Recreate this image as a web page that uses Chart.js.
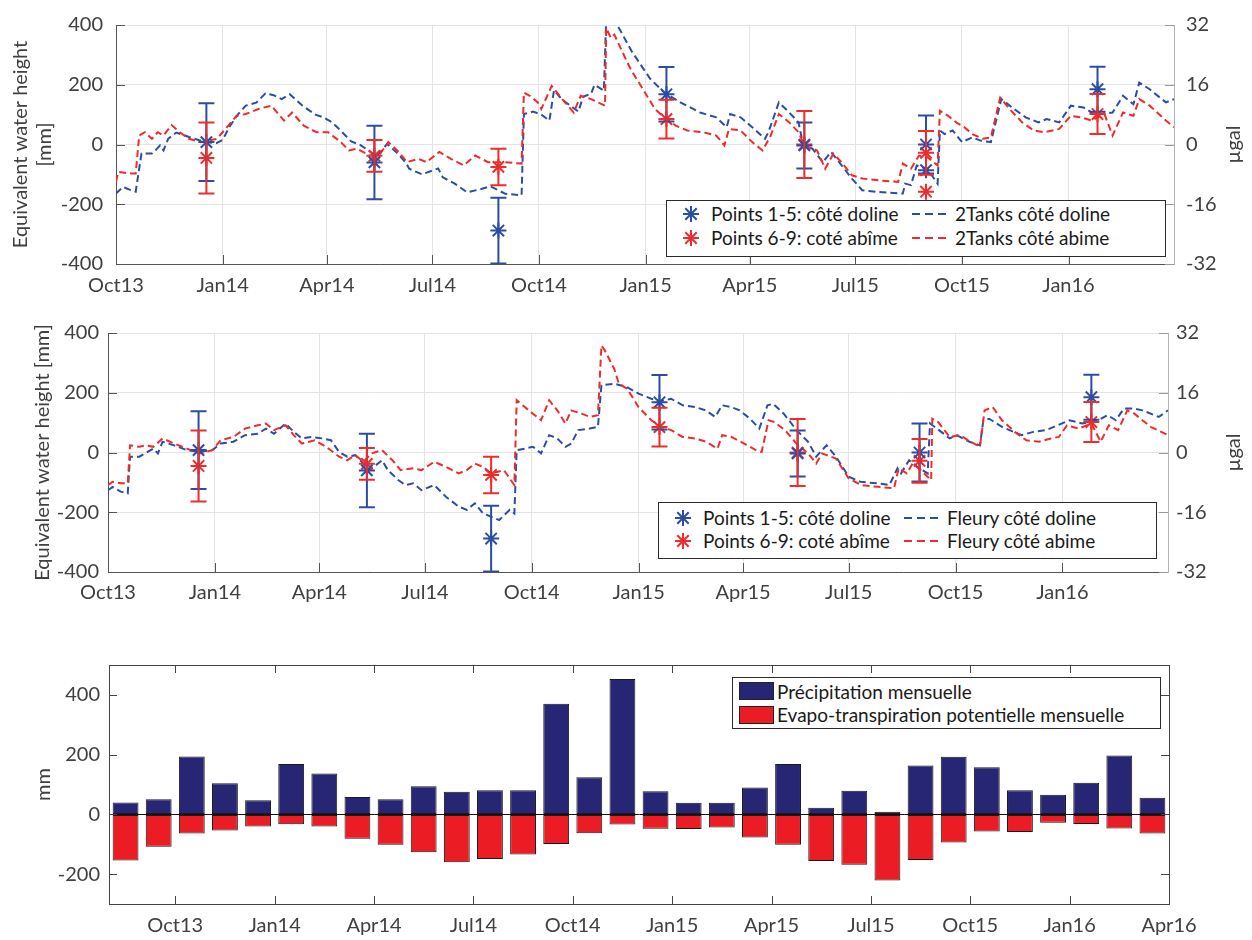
<!DOCTYPE html>
<html>
<head>
<meta charset="utf-8">
<script src="https://cdn.jsdelivr.net/npm/chart.js@4.4.1/dist/chart.umd.min.js"></script>
<style>
  body { margin: 0; background: #fff; }
  #page { position: relative; width: 1252px; height: 940px; font-family: Lato, sans-serif; }
  #page canvas { position: absolute; left: 0; }
  .legend { position: absolute; background: #fff; border: 1px solid #2b2b2b; box-sizing: border-box; font-size: 19px; color: #1a1a1a; }
  .legend span { position: absolute; white-space: nowrap; line-height: 24px; height: 24px; }
  .legend svg { position: absolute; }
  .legend .sw { position: absolute; width: 35px; height: 18px; box-sizing: border-box; border: 1px solid #222; }
</style>
</head>
<body>
<div id="page">
  <canvas id="tanksChart" width="1252" height="300" style="top:0"></canvas>
  <canvas id="fleuryChart" width="1252" height="310" style="top:300px"></canvas>
  <canvas id="rainChart" width="1252" height="300" style="top:640px"></canvas>

  <div class="legend" style="left:666px;top:200px;width:500px;height:57px">
    <svg style="left:15px;top:4px" width="18" height="18"><path d="M9 1V17M1 9H17M3.3 3.3L14.7 14.7M14.7 3.3L3.3 14.7" stroke="#2b4ea2" stroke-width="2"/></svg>
    <span style="left:44px;top:1px">Points 1-5: côté doline</span>
    <svg style="left:245px;top:11px" width="38" height="4"><line x1="0" y1="2" x2="38" y2="2" stroke="#2b4ea2" stroke-width="2" stroke-dasharray="8 5"/></svg>
    <span style="left:288px;top:1px">2Tanks côté doline</span>
    <svg style="left:15px;top:28px" width="18" height="18"><path d="M9 1V17M1 9H17M3.3 3.3L14.7 14.7M14.7 3.3L3.3 14.7" stroke="#ee2c2c" stroke-width="2"/></svg>
    <span style="left:44px;top:25px">Points 6-9: coté abîme</span>
    <svg style="left:245px;top:35px" width="38" height="4"><line x1="0" y1="2" x2="38" y2="2" stroke="#ee2c2c" stroke-width="2" stroke-dasharray="8 5"/></svg>
    <span style="left:288px;top:25px">2Tanks côté abime</span>
  </div>

  <div class="legend" style="left:658px;top:502px;width:499px;height:57px">
    <svg style="left:15px;top:6px" width="18" height="18"><path d="M9 1V17M1 9H17M3.3 3.3L14.7 14.7M14.7 3.3L3.3 14.7" stroke="#2b4ea2" stroke-width="2"/></svg>
    <span style="left:44px;top:3px">Points 1-5: côté doline</span>
    <svg style="left:245px;top:13px" width="38" height="4"><line x1="0" y1="2" x2="38" y2="2" stroke="#2b4ea2" stroke-width="2" stroke-dasharray="8 5"/></svg>
    <span style="left:288px;top:3px">Fleury côté doline</span>
    <svg style="left:15px;top:29px" width="18" height="18"><path d="M9 1V17M1 9H17M3.3 3.3L14.7 14.7M14.7 3.3L3.3 14.7" stroke="#ee2c2c" stroke-width="2"/></svg>
    <span style="left:44px;top:26px">Points 6-9: coté abîme</span>
    <svg style="left:245px;top:36px" width="38" height="4"><line x1="0" y1="2" x2="38" y2="2" stroke="#ee2c2c" stroke-width="2" stroke-dasharray="8 5"/></svg>
    <span style="left:288px;top:26px">Fleury côté abime</span>
  </div>

  <div class="legend" style="left:732px;top:677px;width:429px;height:52px">
    <div class="sw" style="left:6px;top:4px;background:#262674"></div>
    <span style="left:44px;top:2px">Précipitation mensuelle</span>
    <div class="sw" style="left:6px;top:28px;background:#ec1c24"></div>
    <span style="left:44px;top:25px">Evapo-transpiration potentielle mensuelle</span>
  </div>
</div>

<script>
// ---- time axis ----
const quarterDates = ['2013-10-01', '2014-01-01', '2014-04-01', '2014-07-01', '2014-10-01', '2015-01-01',
  '2015-04-01', '2015-07-01', '2015-10-01', '2016-01-01'];
const quarterLabels = ['Oct13', 'Jan14', 'Apr14', 'Jul14', 'Oct14', 'Jan15', 'Apr15', 'Jul15', 'Oct15', 'Jan16'];

// ---- gravity survey points (same for both panels) ----
const surveyDates = ['2013-12-18', '2014-05-12', '2014-08-27', '2015-01-19', '2015-05-18', '2015-08-31', '2016-01-26'];
const dolinePoints = [8, -60, -288, 168, -3, 0, 185];
const dolineErr = [130, 123, 110, 91, 77, 97, 75];
const abimePoints = [-45, -38, -75, 85, 0, -28, 102];
const abimeErr = [119, 53, 61, 65, 112, 73, 67];
// second repeat at the Sep 2015 station (top panel only)
const repeatDates = ['2015-08-31'];
const dolineRepeat = [-86];
const abimeRepeat = [-158];

// ---- 2Tanks model ----
const tanksDolineDates = ['2013-10-01', '2013-10-07', '2013-10-14', '2013-10-18', '2013-10-23', '2013-11-01', '2013-11-04',
  '2013-11-08', '2013-11-11', '2013-11-15', '2013-11-22', '2013-12-03', '2013-12-17', '2013-12-27', '2014-01-01',
  '2014-01-07', '2014-01-14', '2014-01-21', '2014-01-30', '2014-02-07', '2014-02-14', '2014-02-21', '2014-02-28',
  '2014-03-11', '2014-03-22', '2014-03-29', '2014-04-05', '2014-04-12', '2014-04-22', '2014-04-29', '2014-05-07',
  '2014-05-14', '2014-05-23', '2014-06-01', '2014-06-08', '2014-06-11', '2014-06-22', '2014-07-06', '2014-07-10',
  '2014-07-20', '2014-07-31', '2014-08-11', '2014-08-20', '2014-09-02', '2014-09-16', '2014-09-18', '2014-09-26',
  '2014-10-03', '2014-10-10', '2014-10-14', '2014-10-21', '2014-10-28', '2014-11-04', '2014-11-08', '2014-11-15',
  '2014-11-18', '2014-11-26', '2014-11-28', '2014-12-02', '2014-12-09', '2014-12-20', '2014-12-29', '2015-01-05',
  '2015-01-17', '2015-01-31', '2015-02-17', '2015-03-03', '2015-03-12', '2015-03-15', '2015-03-24', '2015-04-03',
  '2015-04-14', '2015-04-17', '2015-04-26', '2015-05-05', '2015-05-13', '2015-05-17', '2015-05-25', '2015-06-03',
  '2015-06-10', '2015-06-17', '2015-06-28', '2015-07-07', '2015-07-21', '2015-08-11', '2015-08-13', '2015-08-18',
  '2015-08-23', '2015-09-01', '2015-09-10', '2015-09-12', '2015-09-16', '2015-09-23', '2015-10-01', '2015-10-10',
  '2015-10-17', '2015-10-26', '2015-11-04', '2015-11-15', '2015-11-25', '2015-12-06', '2015-12-13', '2015-12-24',
  '2016-01-03', '2016-01-14', '2016-01-23', '2016-01-30', '2016-02-08', '2016-02-17', '2016-02-26', '2016-03-02',
  '2016-03-11', '2016-03-25', '2016-04-01'];
const tanksDoline = [-164, -142, -153, -158, -30, -30, -20, -3, -20, 19, 40, 25, 8, 5, 15, 60, 100, 130, 140, 171, 165,
  152, 168, 130, 100, 91, 75, 50, 10, 0, -20, -40, 2, -30, -60, -81, -100, -80, -110, -130, -160, -150, -140, -165,
  -170, 102, 110, 100, 80, 182, 150, 130, 110, 160, 170, 200, 180, 420, 430, 390, 312, 260, 220, 174, 141, 107, 91,
  58, 102, 91, 58, 19, 41, 141, 107, 74, -3, -14, -59, -25, -59, -114, -153, -159, -164, -131, -136, -70, -81, -131,
  47, 35, 47, 8, 24, 13, 8, 152, 119, 91, 74, 85, 74, 130, 124, 102, 102, 107, 163, 135, 207, 185, 141, 152];

const tanksAbimeDates = ['2013-10-01', '2013-10-03', '2013-10-14', '2013-10-18', '2013-10-21', '2013-10-26', '2013-11-01',
  '2013-11-06', '2013-11-11', '2013-11-18', '2013-11-25', '2013-12-03', '2013-12-13', '2013-12-27', '2014-01-01',
  '2014-01-13', '2014-01-21', '2014-02-01', '2014-02-12', '2014-02-23', '2014-03-02', '2014-03-12', '2014-03-23',
  '2014-04-02', '2014-04-13', '2014-04-20', '2014-04-27', '2014-05-08', '2014-05-17', '2014-05-24', '2014-06-02',
  '2014-06-09', '2014-06-19', '2014-06-26', '2014-07-07', '2014-07-17', '2014-07-28', '2014-08-07', '2014-08-18',
  '2014-09-01', '2014-09-16', '2014-09-18', '2014-09-23', '2014-09-30', '2014-10-03', '2014-10-12', '2014-10-21',
  '2014-10-31', '2014-11-06', '2014-11-15', '2014-11-21', '2014-11-27', '2014-11-28', '2014-12-02', '2014-12-05',
  '2014-12-15', '2014-12-20', '2014-12-29', '2015-01-09', '2015-01-17', '2015-01-27', '2015-02-06', '2015-02-20',
  '2015-03-03', '2015-03-10', '2015-03-14', '2015-03-24', '2015-04-03', '2015-04-12', '2015-04-19', '2015-04-26',
  '2015-05-05', '2015-05-13', '2015-05-18', '2015-05-29', '2015-06-05', '2015-06-12', '2015-06-19', '2015-06-28',
  '2015-07-07', '2015-07-21', '2015-08-07', '2015-08-11', '2015-08-18', '2015-08-25', '2015-09-01', '2015-09-10',
  '2015-09-12', '2015-09-19', '2015-09-26', '2015-10-03', '2015-10-10', '2015-10-19', '2015-10-26', '2015-11-03',
  '2015-11-11', '2015-11-22', '2015-12-02', '2015-12-11', '2015-12-24', '2016-01-03', '2016-01-12', '2016-01-21',
  '2016-02-01', '2016-02-08', '2016-02-17', '2016-02-26', '2016-03-02', '2016-03-11', '2016-03-25', '2016-04-01'];
const tanksAbime = [-125, -92, -97, -97, 30, 41, 19, 41, 30, 65, 41, 19, 8, 19, 41, 96, 102, 119, 130, 80, 107, 63, 41,
  41, 8, -20, -14, -37, -31, 8, -25, -59, -48, -59, -25, -48, -70, -37, -59, -59, -64, 174, 163, 141, 119, 196, 152,
  107, 163, 152, 141, 130, 390, 357, 368, 285, 246, 190, 119, 91, 63, 47, 41, 30, -3, 52, 47, 8, -20, 30, 102, 74, 41,
  -3, -20, -81, -31, -59, -103, -114, -120, -125, -64, -81, -37, -42, -70, 113, 96, 74, 58, 35, 19, 24, 157, 119, 74,
  47, 41, 52, 96, 91, 80, 102, 30, 107, 96, 152, 130, 80, 58];

// ---- Fleury model ----
const fleuryDolineDates = ['2013-10-01', '2013-10-05', '2013-10-12', '2013-10-18', '2013-10-20', '2013-10-28', '2013-11-02',
  '2013-11-09', '2013-11-13', '2013-11-17', '2013-11-27', '2013-12-08', '2013-12-19', '2013-12-30', '2014-01-06',
  '2014-01-17', '2014-01-27', '2014-02-07', '2014-02-14', '2014-02-21', '2014-03-03', '2014-03-10', '2014-03-17',
  '2014-03-25', '2014-04-04', '2014-04-11', '2014-04-18', '2014-04-25', '2014-05-02', '2014-05-09', '2014-05-13',
  '2014-05-18', '2014-05-25', '2014-05-30', '2014-06-08', '2014-06-14', '2014-06-21', '2014-06-28', '2014-07-09',
  '2014-07-19', '2014-07-30', '2014-08-06', '2014-08-13', '2014-08-20', '2014-08-27', '2014-09-03', '2014-09-12',
  '2014-09-16', '2014-09-18', '2014-09-25', '2014-10-02', '2014-10-09', '2014-10-16', '2014-10-23', '2014-10-30',
  '2014-11-04', '2014-11-10', '2014-11-20', '2014-11-27', '2014-11-30', '2014-12-11', '2014-12-22', '2015-01-01',
  '2015-01-12', '2015-01-20', '2015-01-29', '2015-02-08', '2015-02-19', '2015-02-28', '2015-03-08', '2015-03-14',
  '2015-03-22', '2015-03-29', '2015-04-07', '2015-04-15', '2015-04-22', '2015-04-27', '2015-05-06', '2015-05-17',
  '2015-05-27', '2015-06-03', '2015-06-08', '2015-06-12', '2015-06-20', '2015-07-01', '2015-07-11', '2015-07-25',
  '2015-08-05', '2015-08-12', '2015-08-15', '2015-08-22', '2015-08-29', '2015-09-07', '2015-09-09', '2015-09-15',
  '2015-09-26', '2015-10-02', '2015-10-13', '2015-10-22', '2015-10-25', '2015-10-30', '2015-11-10', '2015-11-20',
  '2015-11-27', '2015-12-07', '2015-12-18', '2015-12-28', '2016-01-07', '2016-01-18', '2016-02-01', '2016-02-09',
  '2016-02-16', '2016-02-23', '2016-03-03', '2016-03-10', '2016-03-24', '2016-04-01'];
const fleuryDoline = [-126, -115, -131, -137, -14, -14, -3, 13, -3, 36, 24, 8, 2, 8, 30, 36, 58, 63, 80, 63, 97, 69, 47,
  52, 47, 41, 2, -14, -9, -37, -59, -48, -26, -59, -92, -109, -103, -126, -109, -148, -181, -192, -170, -204, -215,
  -226, -192, -204, 8, 13, 19, -3, 58, 47, 19, 30, 75, 80, 86, 225, 230, 219, 197, 180, 172, 180, 158, 152, 141, 119,
  158, 152, 141, 113, 80, 158, 163, 130, 75, 36, -14, 8, 24, -14, -81, -98, -103, -109, -53, -70, -26, -48, -70, 97,
  80, 47, 58, 36, 24, 108, 113, 86, 69, 58, 69, 75, 91, 108, 97, 108, 125, 108, 147, 147, 141, 119, 141];

const fleuryAbimeDates = ['2013-10-01', '2013-10-05', '2013-10-12', '2013-10-18', '2013-10-20', '2013-10-28', '2013-11-02',
  '2013-11-09', '2013-11-17', '2013-11-27', '2013-12-08', '2013-12-19', '2013-12-30', '2014-01-06', '2014-01-17',
  '2014-01-27', '2014-02-07', '2014-02-14', '2014-02-21', '2014-03-03', '2014-03-10', '2014-03-17', '2014-03-28',
  '2014-04-07', '2014-04-18', '2014-04-25', '2014-05-02', '2014-05-09', '2014-05-16', '2014-05-25', '2014-06-03',
  '2014-06-10', '2014-06-21', '2014-06-28', '2014-07-09', '2014-07-19', '2014-07-30', '2014-08-06', '2014-08-13',
  '2014-08-20', '2014-08-27', '2014-09-07', '2014-09-16', '2014-09-18', '2014-09-25', '2014-10-02', '2014-10-09',
  '2014-10-16', '2014-10-23', '2014-10-30', '2014-11-04', '2014-11-13', '2014-11-20', '2014-11-27', '2014-11-30',
  '2014-12-03', '2014-12-11', '2014-12-15', '2014-12-22', '2015-01-01', '2015-01-12', '2015-01-20', '2015-01-29',
  '2015-02-08', '2015-02-19', '2015-02-28', '2015-03-10', '2015-03-14', '2015-03-22', '2015-04-02', '2015-04-12',
  '2015-04-17', '2015-04-23', '2015-04-28', '2015-05-07', '2015-05-17', '2015-05-27', '2015-06-03', '2015-06-08',
  '2015-06-20', '2015-07-01', '2015-07-12', '2015-07-26', '2015-08-09', '2015-08-13', '2015-08-20', '2015-08-25',
  '2015-09-01', '2015-09-10', '2015-09-11', '2015-09-16', '2015-09-26', '2015-10-05', '2015-10-14', '2015-10-22',
  '2015-10-26', '2015-11-02', '2015-11-10', '2015-11-21', '2015-12-01', '2015-12-12', '2015-12-22', '2015-12-29',
  '2016-01-05', '2016-01-15', '2016-01-26', '2016-02-03', '2016-02-10', '2016-02-18', '2016-02-26', '2016-03-03',
  '2016-03-17', '2016-04-01'];
const fleuryAbime = [-109, -98, -103, -103, 24, 19, 24, 19, 47, 30, 13, -3, 8, 41, 52, 80, 91, 97, 75, 91, 58, 30, 41,
  19, -14, -26, -9, -31, -3, 8, -26, -59, -53, -59, -31, -48, -70, -59, -37, -48, -70, -59, -109, 175, 152, 130, 108,
  175, 141, 97, 141, 130, 119, 125, 358, 341, 280, 230, 214, 152, 108, 86, 75, 52, 47, 36, 13, 58, 52, 30, 8, 2, 108,
  102, 75, 30, -3, -37, -3, -20, -87, -109, -115, -120, -53, -70, -37, -59, -92, 113, 102, 52, 58, 36, 19, 141, 152,
  108, 69, 41, 36, 47, 52, 91, 80, 97, 36, 91, 75, 141, 130, 86, 58];

// ---- monthly water balance ----
const months = ['2013-08', '2013-09', '2013-10', '2013-11', '2013-12', '2014-01', '2014-02', '2014-03', '2014-04',
  '2014-05', '2014-06', '2014-07', '2014-08', '2014-09', '2014-10', '2014-11', '2014-12', '2015-01', '2015-02',
  '2015-03', '2015-04', '2015-05', '2015-06', '2015-07', '2015-08', '2015-09', '2015-10', '2015-11', '2015-12',
  '2016-01', '2016-02', '2016-03'];
const precipitation = [40, 51, 194, 104, 47, 169, 137, 58, 51, 94, 76, 81, 81, 370, 124, 453, 77, 39, 39, 90, 169, 22,
  79, 9, 164, 193, 158, 81, 66, 106, 197, 56];
const evapotranspiration = [-154, -108, -64, -54, -41, -33, -41, -82, -102, -127, -160, -149, -134, -99, -63, -34, -48,
  -49, -44, -77, -102, -156, -169, -221, -153, -94, -57, -59, -28, -32, -47, -64];
const balanceTickMonths = ['2013-10', '2014-01', '2014-04', '2014-07', '2014-10', '2015-01', '2015-04', '2015-07',
  '2015-10', '2016-01', '2016-04'];
const balanceTickLabels = ['Oct13', 'Jan14', 'Apr14', 'Jul14', 'Oct14', 'Jan15', 'Apr15', 'Jul15', 'Oct15', 'Jan16', 'Apr16'];

const BLUE = '#2b4ea2';
const RED = '#ee2c2c';
const GRID = '#e4e4e4';
const AXIS = '#555555';
const TEXT = '#404040';

function day(s) {
  return Date.parse(s) / 864e5;
}

function monthPos(s) {
  const [y, m] = s.split('-').map(Number);
  return (y - 2013) * 12 + (m - 8);
}

function xy(dates, values) {
  return dates.map((d, i) => ({ x: day(d), y: values[i] }));
}

Chart.defaults.font.family = 'Lato, sans-serif';
Chart.defaults.font.size = 20;
Chart.defaults.color = TEXT;

// vertical error bars with caps, for datasets carrying an `errors` array
const errorBars = {
  id: 'errorBars',
  afterDatasetsDraw(chart) {
    const { ctx, chartArea: a, scales } = chart;
    ctx.save();
    ctx.beginPath();
    ctx.rect(a.left, a.top, a.right - a.left, a.bottom - a.top);
    ctx.clip();
    ctx.lineWidth = 2;
    chart.data.datasets.forEach((ds, i) => {
      if (!ds.errors) return;
      const meta = chart.getDatasetMeta(i);
      ctx.strokeStyle = ds.borderColor;
      meta.data.forEach((pt, j) => {
        const err = ds.errors[j];
        if (!err) return;
        const v = ds.data[j].y;
        const top = scales.y.getPixelForValue(v + err);
        const bot = scales.y.getPixelForValue(v - err);
        ctx.beginPath();
        ctx.moveTo(pt.x, top);
        ctx.lineTo(pt.x, bot);
        ctx.moveTo(pt.x - 8, top);
        ctx.lineTo(pt.x + 8, top);
        ctx.moveTo(pt.x - 8, bot);
        ctx.lineTo(pt.x + 8, bot);
        ctx.stroke();
      });
    });
    ctx.restore();
  },
};

// inward tick marks, optional full box
const axisFrame = {
  id: 'axisFrame',
  afterDraw(chart, args, opts) {
    const { ctx, chartArea: a, scales } = chart;
    const len = opts.length || 9;
    ctx.save();
    ctx.lineWidth = 1;
    if (opts.box) {
      ctx.strokeStyle = opts.box;
      ctx.strokeRect(Math.round(a.left) + 0.5, Math.round(a.top) + 0.5,
        Math.round(a.right - a.left), Math.round(a.bottom - a.top));
    }
    ctx.strokeStyle = opts.color || AXIS;
    ctx.beginPath();
    scales.x.ticks.forEach((t) => {
      const px = Math.round(scales.x.getPixelForValue(t.value)) + 0.5;
      ctx.moveTo(px, a.bottom);
      ctx.lineTo(px, a.bottom - len);
      if (opts.mirror) {
        ctx.moveTo(px, a.top);
        ctx.lineTo(px, a.top + len);
      }
    });
    scales.y.ticks.forEach((t) => {
      const py = Math.round(scales.y.getPixelForValue(t.value)) + 0.5;
      ctx.moveTo(a.left, py);
      ctx.lineTo(a.left + len, py);
      if (opts.mirror) {
        ctx.moveTo(a.right, py);
        ctx.lineTo(a.right - len, py);
      }
    });
    ctx.stroke();
    if (scales.y1) {
      ctx.strokeStyle = opts.rightColor || AXIS;
      ctx.beginPath();
      scales.y1.ticks.forEach((t) => {
        const py = Math.round(scales.y1.getPixelForValue(t.value)) + 0.5;
        ctx.moveTo(a.right, py);
        ctx.lineTo(a.right - len, py);
      });
      ctx.stroke();
    }
    ctx.restore();
  },
};

// rotated title for the right-hand axis
const sideTitle = {
  id: 'sideTitle',
  afterDraw(chart, args, opts) {
    if (!opts.text) return;
    const { ctx, chartArea: a } = chart;
    ctx.save();
    ctx.translate(opts.x, (a.top + a.bottom) / 2);
    ctx.rotate(-Math.PI / 2);
    ctx.font = '20px Lato, sans-serif';
    ctx.fillStyle = TEXT;
    ctx.textAlign = 'center';
    ctx.textBaseline = 'middle';
    ctx.fillText(opts.text, 0, 0);
    ctx.restore();
  },
};

function pointSet(label, dates, values, errors, color) {
  return {
    label,
    data: xy(dates, values),
    errors,
    showLine: false,
    borderColor: color,
    backgroundColor: color,
    pointStyle: 'star',
    pointRadius: 8,
    pointBorderWidth: 2,
    pointBorderColor: color,
  };
}

function modelLine(label, dates, values, color) {
  return {
    label,
    data: xy(dates, values),
    borderColor: color,
    borderWidth: 2,
    borderDash: [7, 4],
    pointRadius: 0,
    tension: 0,
    fill: false,
  };
}

function initSurveyChart(id, layout, datasets) {
  const canvas = document.getElementById(id);
  if (!(canvas instanceof HTMLCanvasElement)) return;

  // eslint-disable-next-line no-new
  new Chart(canvas, {
    type: 'line',
    data: { datasets },
    plugins: [errorBars, axisFrame, sideTitle],
    options: {
      responsive: false,
      animation: false,
      layout: { padding: { top: layout.top, left: 0, right: 0, bottom: 0 } },
      plugins: {
        legend: { display: false },
        tooltip: { enabled: false },
        axisFrame: { color: AXIS, rightColor: '#9a9a9a' },
        sideTitle: { text: 'µgal', x: 1234 },
      },
      scales: {
        x: {
          type: 'linear',
          min: day('2013-10-01'),
          max: day('2016-04-01'),
          afterBuildTicks(scale) {
            scale.ticks = quarterDates.map((d) => ({ value: day(d) }));
          },
          afterFit(scale) {
            scale.height = layout.xHeight;
          },
          ticks: {
            autoSkip: false,
            maxRotation: 0,
            padding: layout.xPad,
            callback: (value, index) => quarterLabels[index],
          },
          grid: { color: GRID, drawTicks: false },
          border: { color: AXIS },
        },
        y: {
          min: -400,
          max: 400,
          afterFit(scale) {
            scale.width = layout.left;
          },
          ticks: { stepSize: 200, padding: layout.yPad },
          grid: { color: GRID, drawTicks: false },
          border: { color: AXIS },
          title: {
            display: true,
            text: layout.title,
            color: TEXT,
            font: { size: 20, lineHeight: 1.2 },
            padding: { top: layout.titlePad, bottom: 0 },
          },
        },
        y1: {
          position: 'right',
          min: -32,
          max: 32,
          afterFit(scale) {
            scale.width = layout.right;
          },
          ticks: { stepSize: 16, padding: layout.y1Pad },
          grid: { drawOnChartArea: false, drawTicks: false },
          border: { color: '#b4b4b4' },
        },
      },
    },
  });
}

function initBalanceChart() {
  const canvas = document.getElementById('rainChart');
  if (!(canvas instanceof HTMLCanvasElement)) return;

  const barStyle = {
    borderColor: '#1a1a1a',
    borderWidth: 1,
    borderSkipped: false,
    barPercentage: 0.78,
    categoryPercentage: 1,
    grouped: false,
  };

  // eslint-disable-next-line no-new
  new Chart(canvas, {
    type: 'bar',
    data: {
      datasets: [
        {
          label: 'Précipitation mensuelle',
          data: months.map((m, i) => ({ x: monthPos(m) + 0.5, y: precipitation[i] })),
          backgroundColor: '#262674',
          ...barStyle,
        },
        {
          label: 'Evapo-transpiration potentielle mensuelle',
          data: months.map((m, i) => ({ x: monthPos(m) + 0.5, y: evapotranspiration[i] })),
          backgroundColor: '#ec1c24',
          ...barStyle,
        },
      ],
    },
    plugins: [axisFrame],
    options: {
      responsive: false,
      animation: false,
      layout: { padding: { top: 25, left: 0, right: 83, bottom: 0 } },
      plugins: {
        legend: { display: false },
        tooltip: { enabled: false },
        axisFrame: { box: '#444444', color: '#444444', mirror: true, length: 8 },
      },
      scales: {
        x: {
          type: 'linear',
          offset: false,
          min: 0,
          max: monthPos('2016-04'),
          afterBuildTicks(scale) {
            scale.ticks = balanceTickMonths.map((m) => ({ value: monthPos(m) }));
          },
          afterFit(scale) {
            scale.height = 36;
          },
          ticks: {
            autoSkip: false,
            maxRotation: 0,
            padding: 10,
            callback: (value, index) => balanceTickLabels[index],
          },
          grid: { display: false, drawTicks: false, offset: false },
          border: { color: '#444444' },
        },
        y: {
          min: -300,
          max: 500,
          afterBuildTicks(scale) {
            scale.ticks = [-200, 0, 200, 400].map((v) => ({ value: v }));
          },
          afterFit(scale) {
            scale.width = 109;
          },
          ticks: { padding: 9 },
          grid: {
            drawTicks: false,
            color: (c) => (c.tick && c.tick.value === 0 ? '#111111' : 'rgba(0,0,0,0)'),
          },
          border: { color: '#444444' },
          title: {
            display: true,
            text: 'mm',
            color: TEXT,
            font: { size: 20 },
            padding: { top: 32, bottom: 0 },
          },
        },
      },
    },
  });
}

document.addEventListener('DOMContentLoaded', () => {
  initSurveyChart('tanksChart',
    { top: 25, xHeight: 36, left: 116, right: 78, xPad: 10, yPad: 13, y1Pad: 12, titlePad: 9,
      title: ['Equivalent water height', '[mm]'] },
    [
      pointSet('Points 1-5: côté doline', surveyDates, dolinePoints, dolineErr, BLUE),
      pointSet('Points 6-9: coté abîme', surveyDates, abimePoints, abimeErr, RED),
      pointSet('Points 1-5: côté doline', repeatDates, dolineRepeat, null, BLUE),
      pointSet('Points 6-9: coté abîme', repeatDates, abimeRepeat, null, RED),
      modelLine('2Tanks côté abime', tanksAbimeDates, tanksAbime, RED),
      modelLine('2Tanks côté doline', tanksDolineDates, tanksDoline, BLUE),
    ]);

  initSurveyChart('fleuryChart',
    { top: 33, xHeight: 38, left: 108, right: 84, xPad: 9, yPad: 9, y1Pad: 8, titlePad: 31,
      title: 'Equivalent water height [mm]' },
    [
      pointSet('Points 1-5: côté doline', surveyDates, dolinePoints, dolineErr, BLUE),
      pointSet('Points 6-9: coté abîme', surveyDates, abimePoints, abimeErr, RED),
      modelLine('Fleury côté abime', fleuryAbimeDates, fleuryAbime, RED),
      modelLine('Fleury côté doline', fleuryDolineDates, fleuryDoline, BLUE),
    ]);

  initBalanceChart();
});
</script>
</body>
</html>
